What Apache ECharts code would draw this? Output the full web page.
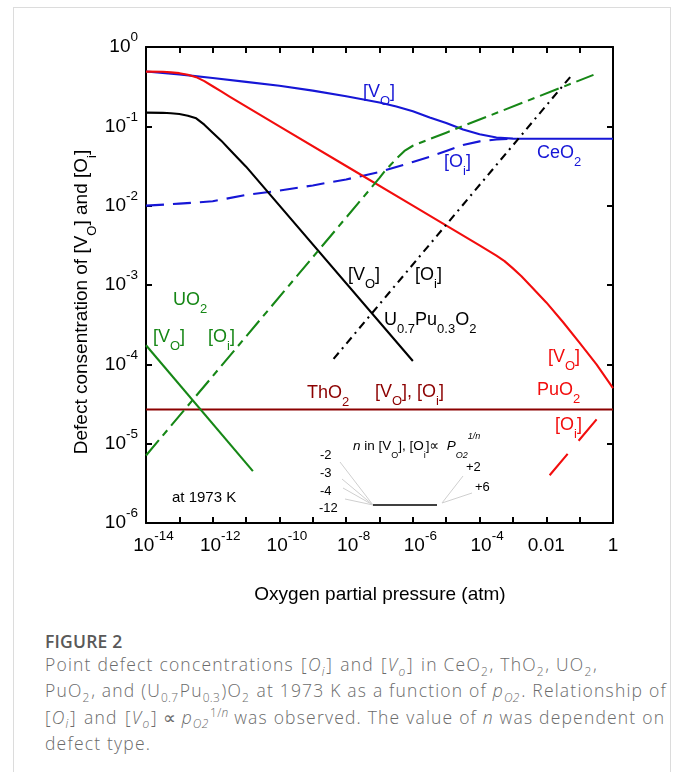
<!DOCTYPE html>
<html>
<head>
<meta charset="utf-8">
<script src="https://cdn.jsdelivr.net/npm/echarts@6/dist/echarts.min.js"></script>
<style>
  html, body { margin: 0; padding: 0; background: #fff; }
  #wrap { position: relative; width: 677px; height: 772px; overflow: hidden; background: #fff; }
  #frame { position: absolute; left: 13px; top: 7px; width: 658px; height: 820px; border: 1px solid #dcdcdc; box-sizing: border-box; }
  #chart { position: absolute; left: 0; top: 0; width: 677px; height: 620px; }
  #cap { position: absolute; left: 45px; top: 628px; font-family: "Open Sans", Lato, sans-serif; color: #6b6b6b; white-space: nowrap; }
  #cap .fig { font-weight: 600; font-size: 17.5px; color: #595959; line-height: 26px; letter-spacing: 0.2px; }
  #cap .txt { font-size: 17.5px; font-weight: 300; line-height: 26.3px; letter-spacing: 1.2px; margin-top: -3px; }
  #cap sub, #cap sup { font-size: 0.68em; line-height: 0; letter-spacing: 0.3px; }
  #cap sub { margin-right: 1.5px; }
  #cap .br { padding: 0 1.5px; }
</style>
</head>
<body>
<div id="wrap">
  <div id="frame"></div>
  <div id="chart"></div>
  <div id="cap">
    <div class="fig">FIGURE 2</div>
    <div class="txt">
      Point defect concentrations <span class="br">[<i>O<sub>i</sub></i>]</span> and <span class="br">[<i>V<sub>o</sub></i>]</span> in CeO<sub>2</sub>, ThO<sub>2</sub>, UO<sub>2</sub>,<br>
      PuO<sub>2</sub>, and (U<sub>0.7</sub>Pu<sub>0.3</sub>)O<sub>2</sub> at 1973 K as a function of <i>p<sub>O2</sub></i>. Relationship of<br>
      <span class="br" style="padding-left:0">[<i>O<sub>i</sub></i>]</span> and <span class="br">[<i>V<sub>o</sub></i>]</span>&#8201;&#8733;&#8201;<i>p<sub>O2</sub></i><sup>1/<i>n</i></sup> was observed. The value of <i>n</i> was dependent on<br>
      defect type.
    </div>
  </div>
</div>
<script>
// Oxygen partial pressure p(O2) in atm vs. defect site fraction, 1973 K
const ceO2_Vo = [[1e-14, 0.49], [1e-13, 0.452], [1e-12, 0.407], [1e-11, 0.363], [1e-10, 0.324], [1e-9, 0.282],
                 [1e-8, 0.24], [1e-7, 0.2], [3.2e-7, 0.178], [1e-6, 0.155], [3.2e-6, 0.129], [1e-5, 0.11],
                 [3.2e-5, 0.0912], [1e-4, 0.0794], [3.2e-4, 0.0724], [1e-3, 0.07], [3.2e-3, 0.0697], [1, 0.0697]];
const ceO2_Oi = [[1e-14, 0.01], [1e-13, 0.0106], [1e-12, 0.01135], [1e-11, 0.01365], [1e-10, 0.0155], [1e-9, 0.018],
                 [1e-8, 0.0214], [1e-7, 0.0266], [1e-6, 0.0355], [3.2e-6, 0.0412], [1e-5, 0.049], [3.2e-5, 0.0582],
                 [1e-4, 0.0646], [3.2e-4, 0.0684], [1e-3, 0.0697]];
const puO2_Vo = [[1e-14, 0.49], [3.2e-14, 0.488], [5.6e-14, 0.479], [1e-13, 0.468], [1.8e-13, 0.447], [3.2e-13, 0.417],
                 [5.6e-13, 0.372], [1e-12, 0.32], [1.8e-12, 0.275], [3.2e-12, 0.237], [1e-10, 0.1], [1e-8, 0.0316],
                 [1e-6, 0.01], [1e-4, 0.00316], [3.2e-4, 0.00234], [5.6e-4, 0.002], [1e-3, 0.00162],
                 [1.8e-3, 0.00129], [3.2e-3, 0.001], [1e-2, 6.03e-4], [3.2e-2, 3.39e-4], [0.1, 1.86e-4],
                 [0.32, 1.0e-4], [1, 5.0e-5]];
const puO2_Oi = [[0.0126, 4.0e-6], [0.37, 2.17e-5]];
const u07_Vo = [[1e-14, 0.149], [3.2e-14, 0.148], [5.6e-14, 0.146], [1e-13, 0.143], [1.8e-13, 0.136], [3.2e-13, 0.126],
                [5.6e-13, 0.105], [1e-12, 0.083], [1.8e-12, 0.066], [3.2e-12, 0.051], [5.6e-12, 0.0398],
                [1e-11, 0.031], [1e-6, 1.1e-4]];
const u07_Oi = [[4.2e-9, 1.17e-4], [0.063, 0.46]];
const uo2_Vo = [[1e-14, 1.74e-4], [1.6e-11, 4.5e-6]];
const uo2_Oi = [[1e-14, 7.1e-6], [1e-7, 0.0224], [1.4e-7, 0.0269], [2e-7, 0.0316], [3.2e-7, 0.039], [5.6e-7, 0.049],
                [1e-6, 0.0569], [3.2e-6, 0.0692], [1e-5, 0.0832], [0.26, 0.445]];
const thO2 = [[1e-14, 2.7e-5], [1, 2.7e-5]];

// Tick labels: decade exponents shown as powers of ten, a few written out
const xLabelExps = [-14, -12, -10, -8, -6, -4, -2, 0];
const yLabelExps = [-6, -5, -4, -3, -2, -1, 0];
const plainLabels = { '-2': '0.01', '0': '1' };

const FONT = '"Liberation Sans", Arial, "DejaVu Sans", sans-serif';
const BLUE = '#1616d6', RED = '#f20d0d', DRED = '#8c0000', GREEN = '#168716', BLACK = '#000';

// rich-text styles: m = normal, s = subscript, u = superscript (i = italic variants)
function richSet(size, sub, color) {
  const base = { fontFamily: FONT, fill: color, color: color };
  const lh = size + 14;
  return {
    m: Object.assign({}, base, { fontSize: size, lineHeight: lh, verticalAlign: 'middle' }),
    s: Object.assign({}, base, { fontSize: sub, lineHeight: sub, verticalAlign: 'bottom' }),
    u: Object.assign({}, base, { fontSize: sub, lineHeight: sub, verticalAlign: 'top' }),
    mi: Object.assign({}, base, { fontSize: size, lineHeight: lh, verticalAlign: 'middle', fontStyle: 'italic' }),
    si: Object.assign({}, base, { fontSize: sub, lineHeight: sub, verticalAlign: 'bottom', fontStyle: 'italic' }),
    ui: Object.assign({}, base, { fontSize: sub, lineHeight: sub, verticalAlign: 'top', fontStyle: 'italic' }),
    sp: Object.assign({}, base, { fontSize: sub, lineHeight: sub, width: 15 })
  };
}

const tickRich = richSet(19, 13.5, BLACK);

function expOf(v) { return Math.round(Math.log10(v)); }
function fmtX(v) {
  const e = expOf(v);
  if (xLabelExps.indexOf(e) < 0) return '';
  if (plainLabels[String(e)] !== undefined) return '{m|' + plainLabels[String(e)] + '}';
  return '{sp| }{m|10}{u|' + e + '}';
}
function fmtY(v) { const e = expOf(v); return yLabelExps.indexOf(e) >= 0 ? '{m|10}{u|' + e + '}' : ''; }

const frameLine = { onZero: false, lineStyle: { color: BLACK, width: 2 } };
const tickStyle = { inside: true, length: 6, lineStyle: { color: BLACK, width: 2 } };

function xAxisDef(pos, labels) {
  return {
    type: 'log', logBase: 10, min: 1e-14, max: 1, interval: 1, position: pos, gridIndex: 0,
    axisLine: frameLine, axisTick: tickStyle, splitLine: { show: false }, minorTick: { show: false },
    axisLabel: { show: labels, margin: 6, formatter: fmtX, rich: tickRich, showMinLabel: true, showMaxLabel: true }
  };
}
function yAxisDef(pos, labels) {
  return {
    type: 'log', logBase: 10, min: 1e-6, max: 1, interval: 1, position: pos, gridIndex: 0,
    axisLine: frameLine, axisTick: tickStyle, splitLine: { show: false }, minorTick: { show: false },
    axisLabel: { show: labels, margin: 8, formatter: fmtY, rich: tickRich, showMinLabel: true, showMaxLabel: true }
  };
}

function lineSeries(name, data, color, type) {
  return {
    name: name, type: 'line', data: data, xAxisIndex: 0, yAxisIndex: 0,
    showSymbol: false, symbol: 'none', smooth: false,
    lineStyle: { color: color, width: 2.1, type: type || 'solid', cap: 'butt', join: 'round' },
    emphasis: { disabled: true }, silent: true
  };
}

// Text annotations drawn on the plot
function label(x, y, text, color, size, sub) {
  return { type: 'text', x: x, y: y, z: 100,
    style: { text: text, rich: richSet(size || 18, sub || 13, color), fill: color, font: (size || 18) + 'px ' + FONT,
             align: 'left', verticalAlign: 'middle' } };
}
const VO = '{m|[V}{s|O}{m|]}';
const OI = '{m|[O}{s|i}{m|]}';

const keyRich = richSet(13.5, 9, BLACK);
const keyText = '{mi|n}{m| in [V}{s|O}{m|], [O}{s|i}{m|]\u221D  }{mi|P}{si|O2}{ui|1/n}';

function grayLine(x1, y1, x2, y2) {
  return { type: 'line', z: 90, shape: { x1: x1, y1: y1, x2: x2, y2: y2 }, style: { stroke: '#cfcfcf', lineWidth: 1 } };
}
function plainText(x, y, text, size) {
  return { type: 'text', x: x, y: y, z: 100, style: { text: text, font: size + 'px ' + FONT, fill: BLACK, align: 'left', verticalAlign: 'middle' } };
}

const graphics = [
  label(363, 92, VO, BLUE),
  label(444, 162, OI, BLUE),
  label(537, 153, '{m|CeO}{s|2}', BLUE),
  label(348, 275, VO, BLACK),
  label(415, 275, OI, BLACK),
  label(384, 320, '{m|U}{s|0.7}{m|Pu}{s|0.3}{m|O}{s|2}', BLACK),
  label(173, 300, '{m|UO}{s|2}', GREEN),
  label(153, 337, VO, GREEN),
  label(208, 337, OI, GREEN),
  label(307, 393, '{m|ThO}{s|2}', DRED),
  label(375, 392, VO + '{m|, }' + OI, DRED),
  label(548, 357, VO, RED),
  label(537, 390, '{m|PuO}{s|2}', RED),
  label(555, 425, OI, RED),
  plainText(172, 498, 'at 1973 K', 15),
  // slope key
  { type: 'text', x: 353, y: 446, z: 100, style: { text: keyText, rich: keyRich, fill: BLACK, font: '13.5px ' + FONT, align: 'left', verticalAlign: 'middle' } },
  plainText(320, 455, '-2', 13),
  plainText(320, 473, '-3', 13),
  plainText(320, 491, '-4', 13),
  plainText(319, 508, '-12', 13),
  plainText(466, 467, '+2', 13),
  plainText(475, 487, '+6', 13),
  grayLine(340, 462, 373, 505),
  grayLine(342, 479, 373, 505),
  grayLine(343, 488, 373, 505),
  grayLine(345, 499, 373, 505),
  grayLine(463, 476, 442, 503),
  grayLine(472, 493, 442, 503),
  { type: 'line', z: 91, shape: { x1: 373, y1: 505, x2: 437, y2: 505 }, style: { stroke: BLACK, lineWidth: 1.3 } },
  // axis titles
  { type: 'text', x: 82, y: 302, rotation: Math.PI / 2, z: 100,
    style: { text: '{m|Defect consentration of [V}{s|O}{m|] and [O}{s|i}{m|]}', rich: richSet(19, 13, BLACK),
             font: '19px ' + FONT, fill: BLACK, align: 'center', verticalAlign: 'middle' } },
  { type: 'text', x: 380, y: 595, z: 100,
    style: { text: 'Oxygen partial pressure (atm)', font: '19px ' + FONT, fill: BLACK, align: 'center', verticalAlign: 'middle' } }
];

const chart = echarts.init(document.getElementById('chart'), null, { renderer: 'canvas' });
chart.setOption({
  animation: false,
  backgroundColor: 'transparent',
  grid: { left: 146, top: 47, width: 467, height: 476, containLabel: false },
  xAxis: [xAxisDef('bottom', true), xAxisDef('top', false)],
  yAxis: [yAxisDef('left', true), yAxisDef('right', false)],
  tooltip: { show: false },
  series: [
    lineSeries('ThO2 [Vo],[Oi]', thO2, DRED),
    lineSeries('CeO2 [Vo]', ceO2_Vo, BLUE),
    lineSeries('CeO2 [Oi]', ceO2_Oi, BLUE, [18, 9]),
    lineSeries('PuO2 [Vo]', puO2_Vo, RED),
    lineSeries('PuO2 [Oi]', puO2_Oi, RED, [28, 17]),
    lineSeries('U0.7Pu0.3O2 [Vo]', u07_Vo, BLACK),
    lineSeries('U0.7Pu0.3O2 [Oi]', u07_Oi, BLACK, [8, 5, 2, 5]),
    lineSeries('UO2 [Vo]', uo2_Vo, GREEN),
    lineSeries('UO2 [Oi]', uo2_Oi, GREEN, [20, 6, 7, 6])
  ],
  graphic: graphics
});
</script>
</body>
</html>
